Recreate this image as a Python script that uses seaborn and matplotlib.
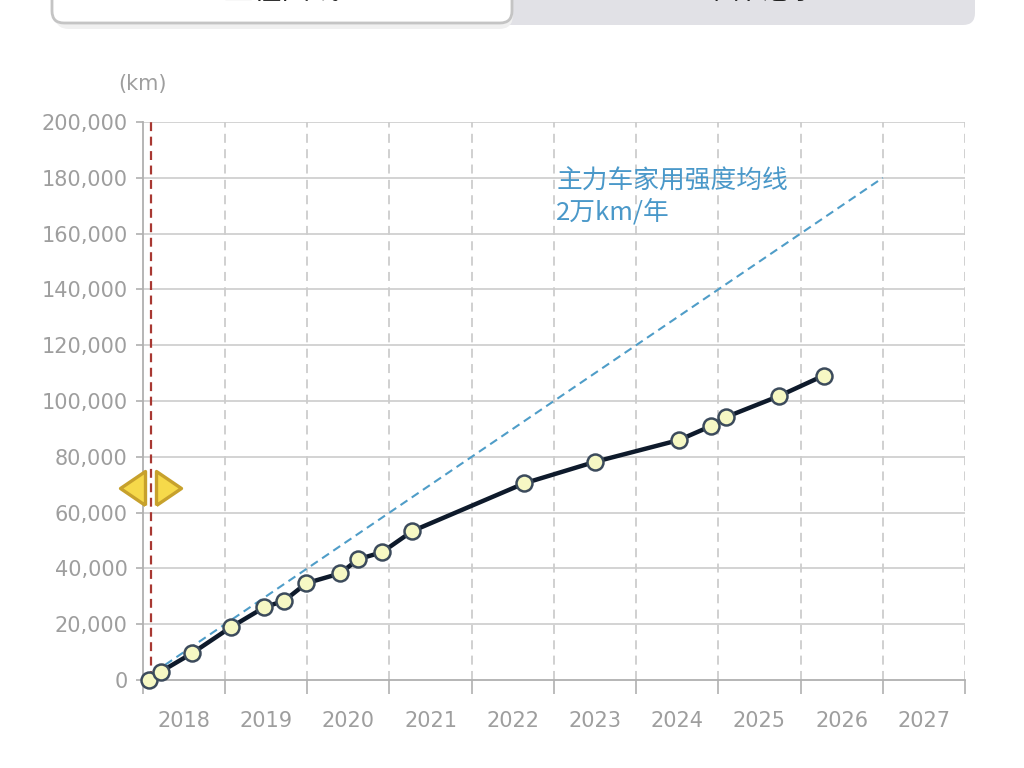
import numpy as np
import pandas as pd
import matplotlib
matplotlib.use("Agg")
import matplotlib.pyplot as plt
import seaborn as sns
from matplotlib.patches import FancyBboxPatch
from matplotlib.markers import MarkerStyle
from matplotlib.transforms import IdentityTransform, blended_transform_factory

# mileage records (decimal year, odometer km)
record_dates = [2018.08, 2018.22, 2018.60, 2019.07, 2019.48, 2019.72, 2019.99,
                2020.40, 2020.62, 2020.91, 2021.28, 2022.64, 2023.50, 2024.52,
                2024.91, 2025.09, 2025.74, 2026.28]
record_km = [0, 3000, 9600, 18900, 26100, 28400, 34700, 38200, 43300, 45800,
             53400, 70500, 78200, 86000, 91000, 94200, 101800, 109100]

# reference line: 20,000 km per year
avg_dates = [2018.0, 2027.0]
avg_km = [0, 180000]

year_labels = ["2018", "2019", "2020", "2021", "2022", "2023", "2024", "2025", "2026", "2027"]
y_ticks = list(range(0, 200001, 20000))
purchase_date = 2018.10

avg_label = "主力车家用强度均线\n2万km/年"
tab_labels = ["里程曲线", "维保记录"]

sns.set_theme(style="white")
plt.rcParams["font.family"] = ["DejaVu Sans", "Noto Sans CJK SC"]

fig = plt.figure(figsize=(10.24, 7.68), dpi=100)
ax = fig.add_axes([142.8 / 1024, 1 - 680 / 768, (965 - 142.8) / 1024, (680 - 122) / 768])

records = pd.DataFrame({"date": record_dates, "km": record_km})
avg = pd.DataFrame({"date": avg_dates, "km": avg_km})

ax.set_xlim(2018, 2028)
ax.set_ylim(0, 200000)

# grid
for yv in y_ticks[1:]:
    ax.axhline(yv, color="#d0d0d0", lw=1.3, zorder=0)
for xv in range(2019, 2029):
    ax.axvline(xv, color="#cdcdcd", lw=1.3, ls=(0, (5, 3.5)), zorder=0)

sns.lineplot(data=avg, x="date", y="km", ax=ax, color="#4f9dc8", lw=1.5,
             dashes=False, zorder=2)
ax.lines[-1].set_linestyle((0, (4, 2.5)))

sns.lineplot(data=records, x="date", y="km", ax=ax, color="#0e1a2b", lw=3.2,
             marker="o", markersize=11.5, markerfacecolor="#f6f8c4",
             markeredgecolor="#3c4b5c", markeredgewidth=1.8, zorder=4,
             clip_on=False)

ax.axvline(purchase_date, color="#a83832", lw=1.6, ls=(0, (4, 2.5)), zorder=3)

# slider handles
tr = blended_transform_factory(ax.transData, ax.transAxes)
left_tri = MarkerStyle([(0, -17), (0, 17), (-25, 0), (0, -17)], joinstyle="round")
right_tri = MarkerStyle([(0, -17), (0, 17), (25, 0), (0, -17)], joinstyle="round")
ax.plot([purchase_date - 0.07], [0.344], marker=left_tri, markersize=36,
        color="#f6d94a", mec="#c7a12c", mew=2.4, transform=tr, clip_on=False, zorder=6)
ax.plot([purchase_date + 0.06], [0.344], marker=right_tri, markersize=36,
        color="#f6d94a", mec="#c7a12c", mew=2.4, transform=tr, clip_on=False, zorder=6)

ax.text(2023.03, 0.866, avg_label, transform=tr, color="#4a98c9", fontsize=18.5,
        family=["Noto Sans CJK SC", "DejaVu Sans"], va="center", ha="left",
        linespacing=1.2)

# axes styling
for s in ["top", "right"]:
    ax.spines[s].set_visible(False)
for s in ["left", "bottom"]:
    ax.spines[s].set_color("#b0b0b0")
    ax.spines[s].set_linewidth(1.3)

ax.set_yticks(y_ticks)
ax.set_yticklabels([f"{v:,}" for v in y_ticks])
ax.tick_params(axis="y", length=5, width=1.2, color="#b0b0b0", pad=6,
               labelsize=15, labelcolor="#9e9e9e", left=True)

ax.set_xticks(range(2018, 2029))
ax.set_xticklabels([])
ax.set_xticks(np.arange(2018.5, 2028, 1.0), minor=True)
ax.set_xticklabels(year_labels, minor=True)
ax.tick_params(axis="x", which="major", length=10, width=1.2, color="#b0b0b0", bottom=True)
ax.tick_params(axis="x", which="minor", length=0, pad=22, labelsize=15, labelcolor="#9e9e9e")
ax.set_xlabel("")
ax.set_ylabel("")

fig.text(142.5 / 1024, 1 - 84 / 768, "(km)", ha="center", va="center",
         fontsize=15, color="#9e9e9e")

# tab bar at the top (cut off by the page)
H = 768
fig.patches.append(FancyBboxPatch((52, H - 25), 923, 60, boxstyle="round,pad=0,rounding_size=12",
                                  transform=IdentityTransform(), fc="#e1e1e6", ec="none", zorder=0))
fig.patches.append(FancyBboxPatch((55, H - 29), 458, 60, boxstyle="round,pad=0,rounding_size=14",
                                  transform=IdentityTransform(), fc="#f0f0f0", ec="none", zorder=1))
fig.patches.append(FancyBboxPatch((52, H - 23), 460, 60, boxstyle="round,pad=0,rounding_size=12",
                                  transform=IdentityTransform(), fc="white", ec="#c4c4c4", lw=2, zorder=2))
fig.text(282 / 1024, 1 + 9 / 768, tab_labels[0], ha="center", va="center", fontsize=21,
         color="#222222", family=["Noto Sans CJK SC"], zorder=3)
fig.text(760 / 1024, 1 + 9 / 768, tab_labels[1], ha="center", va="center", fontsize=21,
         color="#222222", family=["Noto Sans CJK SC"], zorder=3)

fig.savefig("out.png", dpi=100)
